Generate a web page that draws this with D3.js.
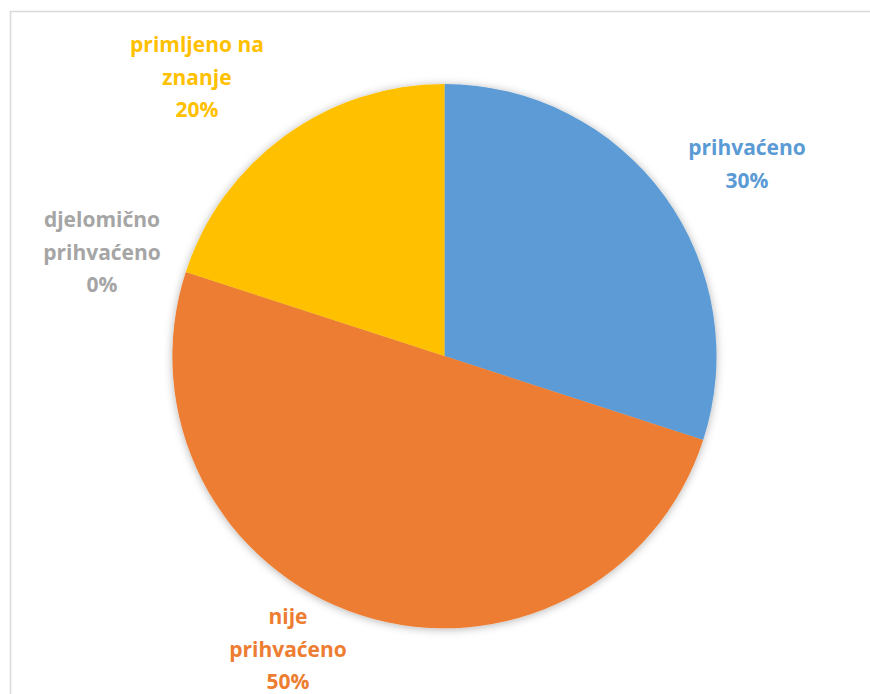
<!DOCTYPE html>
<html>
<head>
<meta charset="utf-8">
<script src="https://cdn.jsdelivr.net/npm/d3@7/dist/d3.min.js"></script>
<style>
  html, body { margin: 0; padding: 0; background: #fff; }
  svg { display: block; }
  .label { font-family: "Open Sans", "Noto Sans", sans-serif; font-weight: 700; font-size: 21px; }
</style>
</head>
<body>
<div id="chart"></div>
<script>
// chart data
const categories = ['prihvaćeno', 'nije prihvaćeno', 'djelomično prihvaćeno', 'primljeno na znanje'];
const values = [30, 50, 0, 20];
const colors = ['#5B9BD5', '#ED7D31', '#A5A5A5', '#FFC000'];
// label lines as Excel wrapped them
const labelLines = [
    ['prihvaćeno', '30%'],
    ['nije', 'prihvaćeno', '50%'],
    ['djelomično', 'prihvaćeno', '0%'],
    ['primljeno na', 'znanje', '20%']
];

const width = 870, height = 694;
const cx = 444.5, cy = 356, radius = 272;

const svg = d3.select('#chart')
    .append('svg')
    .attr('width', width)
    .attr('height', height);

// chart area frame (right and bottom run off the picture)
svg.append('rect')
    .attr('x', 10.5)
    .attr('y', 11.5)
    .attr('width', 880)
    .attr('height', 700)
    .attr('fill', '#fff')
    .attr('stroke', '#d9d9d9')
    .attr('stroke-width', 1.5);

const defs = svg.append('defs');
defs.append('filter')
    .attr('id', 'shadow')
    .attr('x', '-10%').attr('y', '-10%')
    .attr('width', '120%').attr('height', '120%')
    .append('feDropShadow')
    .attr('dx', 0)
    .attr('dy', 1)
    .attr('stdDeviation', 4)
    .attr('flood-color', '#000')
    .attr('flood-opacity', 0.3);

const pie = d3.pie().sort(null).value(d => d);
const arcs = pie(values);
const arc = d3.arc().innerRadius(0).outerRadius(radius);

const g = svg.append('g')
    .attr('transform', `translate(${cx}, ${cy})`);

g.append('g')
    .attr('filter', 'url(#shadow)')
    .selectAll('path')
    .data(arcs)
    .enter().append('path')
    .attr('d', arc)
    .attr('fill', (d, i) => colors[i]);

// label centres, outside the pie as in the source
const labelPos = [
    [747, 148],
    [288, 617],
    [102, 220],
    [197, 45]
];
const lineHeight = 32.5;

svg.selectAll('.label')
    .data(arcs)
    .enter().append('text')
    .attr('class', 'label')
    .attr('text-anchor', 'middle')
    .attr('fill', (d, i) => colors[i])
    .each(function (d, i) {
        const t = d3.select(this);
        labelLines[i].forEach((line, j) => {
            t.append('tspan')
                .attr('x', labelPos[i][0])
                .attr('y', labelPos[i][1] + j * lineHeight)
                .attr('dy', '0.35em')
                .text(line);
        });
    });
</script>
</body>
</html>
